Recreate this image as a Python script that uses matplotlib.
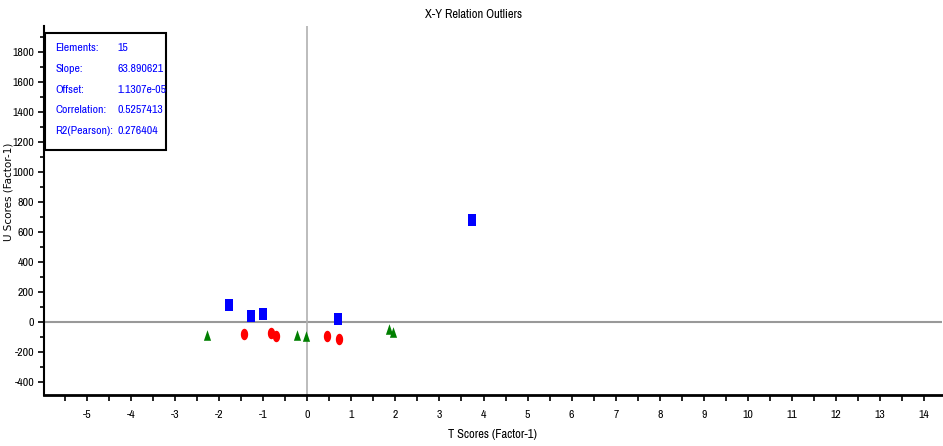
import numpy as np
import matplotlib
matplotlib.use("Agg")
import matplotlib.pyplot as plt
from matplotlib.ticker import MultipleLocator

# scores
blue_t = [-1.78, -1.27, -1.01, 0.70, 3.73]
blue_u = [115, 42, 53, 22, 680]
red_t = [-1.44, -0.82, -0.70, 0.45, 0.73]
red_u = [-80, -69, -91, -91, -111]
green_t = [-2.27, -0.24, -0.02, 1.85, 1.95]
green_u = [-82, -82, -93, -42, -62]

stat_names = ["Elements:", "Slope:", "Offset:", "Correlation:", "R2(Pearson):"]
stat_values = ["15", "63.890621", "1.1307e-05", "0.5257413", "0.276404"]

plt.rcParams["font.family"] = ["Archivo Narrow", "Roboto Condensed", "DejaVu Sans"]
plt.rcParams["axes.unicode_minus"] = False

# tall markers
rect = [(-0.32, -0.5), (0.32, -0.5), (0.32, 0.5), (-0.32, 0.5), (-0.32, -0.5)]
t = np.linspace(0, 2 * np.pi, 40)
oval = list(zip(0.32 * np.cos(t), 0.5 * np.sin(t)))
tri = [(-0.34, -0.5), (0.34, -0.5), (0.0, 0.5), (-0.34, -0.5)]

fig = plt.figure(figsize=(9.43, 4.46), dpi=100)
ax = fig.add_axes([44 / 943, 51 / 446, 898 / 943, 369 / 446])

ax.axhline(0, color="#999999", lw=1.5, zorder=1)
ax.axvline(0, color="#b0b0b0", lw=1.2, zorder=1)

ax.scatter(blue_t, blue_u, marker=rect, s=80, color="#0000ff", zorder=3, linewidths=0)
ax.scatter(red_t, red_u, marker=oval, s=68, color="#ff0000", zorder=3, linewidths=0)
ax.scatter(green_t, green_u, marker=tri, s=58, color="#007f00", zorder=3, linewidths=0)

ax.set_xlim(-5.97, 14.4)
ax.set_ylim(-485, 1975)
ax.xaxis.set_major_locator(MultipleLocator(1))
ax.xaxis.set_minor_locator(MultipleLocator(0.5))
ax.yaxis.set_major_locator(MultipleLocator(200))
ax.yaxis.set_minor_locator(MultipleLocator(100))
ax.tick_params(axis="both", which="both", direction="out", width=1.2, labelsize=8.5)
ax.tick_params(axis="x", which="both", length=4, pad=7)
ax.tick_params(axis="y", which="major", length=4, pad=3)
ax.tick_params(axis="y", which="minor", length=3)

for side in ["top", "right"]:
    ax.spines[side].set_visible(False)
ax.spines["bottom"].set_linewidth(2)
ax.spines["left"].set_linewidth(1.5)

fig.text(474 / 943, 1 - 15 / 446, "X-Y Relation Outliers", ha="center", va="center", fontsize=9)
fig.text(492 / 943, 1 - 434 / 446, "T Scores (Factor-1)", ha="center", va="center", fontsize=9)
fig.text(9 / 943, 1 - 192 / 446, "U Scores (Factor-1)", ha="center", va="center",
         rotation=90, fontsize=7.5, family="DejaVu Sans")

# statistics box
box = plt.Rectangle((45 / 943, 1 - 150 / 446), 121 / 943, 117 / 446, transform=fig.transFigure,
                    facecolor="white", edgecolor="black", lw=1.5, zorder=5)
fig.add_artist(box)
for i, (n, v) in enumerate(zip(stat_names, stat_values)):
    y = 1 - (48 + i * 20.8) / 446
    fig.text(55 / 943, y, n, color="#0000ff", fontsize=8.5, va="center", zorder=6)
    fig.text(117 / 943, y, v, color="#0000ff", fontsize=8.5, va="center", zorder=6)

fig.savefig("out.png", dpi=100)
